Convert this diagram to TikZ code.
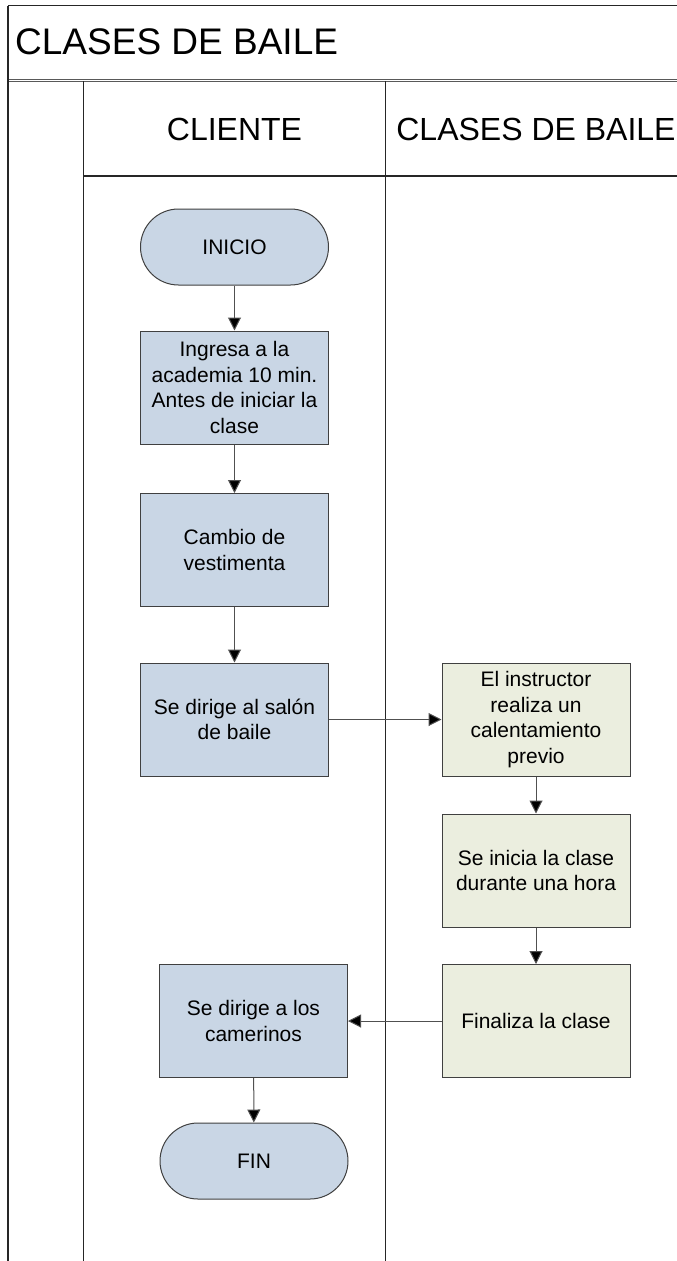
\documentclass[tikz,border=0pt]{standalone}
\usepackage{fontspec}
\setmainfont{Liberation Sans}
\usetikzlibrary{arrows.meta}
\definecolor{bluefill}{HTML}{C9D6E5}
\definecolor{greenfill}{HTML}{EBEEDF}
\definecolor{edgegray}{HTML}{404040}
\definecolor{linegray}{HTML}{505050}
\tikzset{
  procblue/.style={draw=edgegray, line width=1pt, fill=bluefill, minimum width=188pt, minimum height=113pt, inner sep=0pt, align=center, font=\fontsize{21}{25.5}\selectfont},
  procgreen/.style={procblue, fill=greenfill},
  termblue/.style={procblue, minimum height=76pt, rounded corners=38pt},
  flow/.style={draw=linegray, line width=1pt, -{Triangle[length=13pt,width=13pt,fill=black]}},
  lane/.style={draw=black!85, line width=1.2pt},
  headtext/.style={inner sep=0pt, font=\fontsize{32}{38}\selectfont},
}
\begin{document}
\begin{tikzpicture}[x=1pt,y=-1pt]
\useasboundingbox (0,0) rectangle (677,1261);
\fill[white] (0,0) rectangle (677,1261);
% pool frame
\draw[lane] (8,5.7) -- (677,5.7);
\draw[lane, draw=black!65] (8,79.4) -- (677,79.4);
\draw[lane, draw=black!65] (8,81.4) -- (677,81.4);
\draw[lane] (8,5.7) -- (8,1261);
\draw[lane] (83.5,81.4) -- (83.5,1261);
\draw[lane] (385.5,81.4) -- (385.5,1261);
\draw[lane] (83.5,176) -- (677,176);
% titles
\node[anchor=west, inner sep=0pt, font=\fontsize{37}{44}\selectfont] (title) at (15,41.5) {CLASES DE BAILE};
\node[headtext] (hcli) at (234.5,129) {CLIENTE};
\node[headtext] (hcla) at (536,129) {CLASES DE BAILE};
% nodes
\node[termblue] (inicio) at (234.5,247) {INICIO};
\node[procblue] (ingresa) at (234.5,387.5) {Ingresa a la\\academia 10 min.\\Antes de iniciar la\\clase};
\node[procblue] (cambio) at (234.5,550) {Cambio de\\vestimenta};
\node[procblue] (salon) at (234.5,719.5) {Se dirige al salón\\de baile};
\node[procgreen] (calent) at (536,719.5) {El instructor\\realiza un\\calentamiento\\previo};
\node[procgreen] (inicia) at (536,870.5) {Se inicia la clase\\durante una hora};
\node[procgreen] (finaliza) at (536,1021) {Finaliza la clase};
\node[procblue] (camer) at (253.5,1021) {Se dirige a los\\camerinos};
\node[termblue] (fin) at (254,1161) {FIN};
% connectors
\draw[flow] (inicio) -- (ingresa);
\draw[flow] (ingresa) -- (cambio);
\draw[flow] (cambio) -- (salon);
\draw[flow] (salon) -- (calent);
\draw[flow] (calent) -- (inicia);
\draw[flow] (inicia) -- (finaliza);
\draw[flow] (finaliza) -- (camer);
\draw[flow] (camer) -- (fin);
\end{tikzpicture}
\end{document}
